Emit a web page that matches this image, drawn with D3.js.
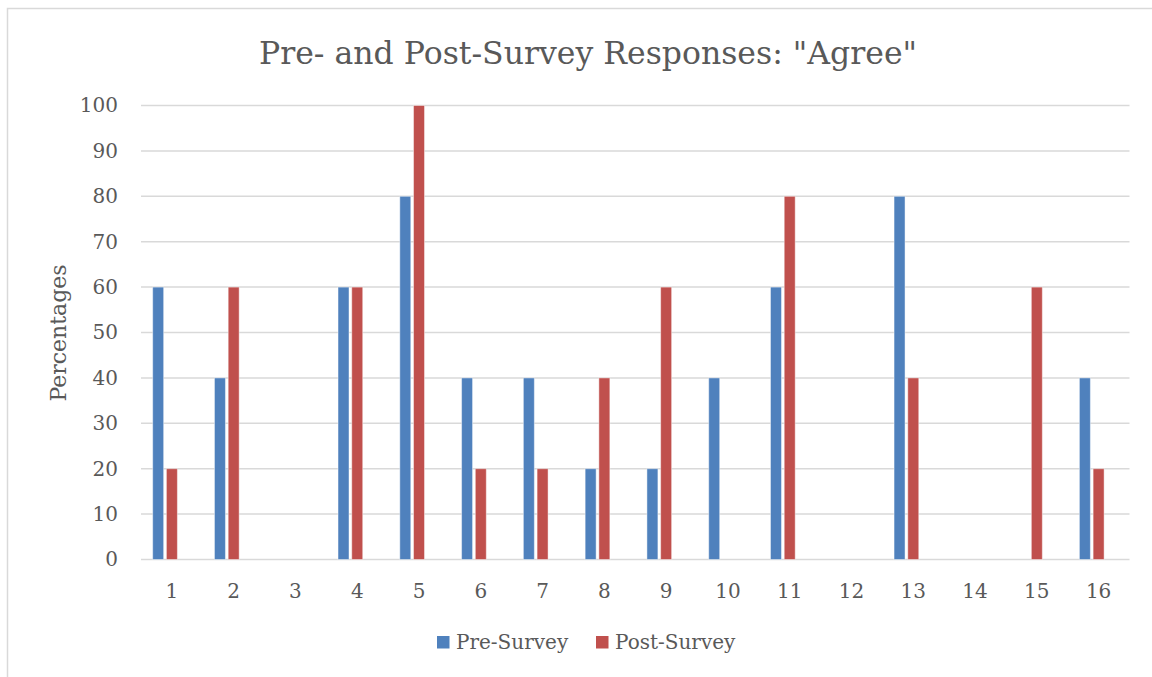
<!DOCTYPE html>
<html>
<head>
<meta charset="utf-8">
<script src="https://cdn.jsdelivr.net/npm/d3@7"></script>
<style>
  html, body { margin: 0; padding: 0; background: #fff; }
  svg { display: block; }
  text { font-family: "DejaVu Serif", "Liberation Serif", serif; fill: #595959; }
</style>
</head>
<body>
<svg id="chart" width="1152" height="677"></svg>
<script>
// Survey question numbers and the share of respondents answering "Agree"
const categories = ["1","2","3","4","5","6","7","8","9","10","11","12","13","14","15","16"];
const preSurvey  = [60, 40, 0, 60, 80, 40, 40, 20, 20, 40, 60, 0, 80, 0, 0, 40];
const postSurvey = [20, 60, 0, 60, 100, 20, 20, 40, 60, 0, 80, 0, 40, 0, 60, 20];
const yTicks = [0, 10, 20, 30, 40, 50, 60, 70, 80, 90, 100];
const seriesNames = ["Pre-Survey", "Post-Survey"];
const seriesColors = ["#4F81BD", "#C0504D"];

const svg = d3.select("#chart");
const W = 1152, H = 677;

// Chart frame (runs off the right and bottom of the page)
svg.append("rect")
  .attr("x", 7.5).attr("y", 8.5)
  .attr("width", W + 20).attr("height", H + 20)
  .attr("fill", "none").attr("stroke", "#d9d9d9").attr("stroke-width", 1.5);

const plot = { left: 141, right: 1129.5, top: 105.5, bottom: 559.5 };

const y = d3.scaleLinear().domain([0, 100]).range([plot.bottom, plot.top]);

// Category bands; each band holds three slots, the first two used by the series
const x0 = d3.scaleBand().domain(categories)
  .range([plot.left, plot.right])
  .paddingInner(0.378).paddingOuter(0.189);
const slots = ["pre", "post", "spare"];
const x1 = d3.scaleBand().domain(slots)
  .range([0, x0.bandwidth()])
  .paddingInner(0.2);

// Gridlines
svg.append("g")
  .selectAll("line")
  .data(yTicks)
  .join("line")
  .attr("x1", plot.left).attr("x2", plot.right)
  .attr("y1", d => y(d)).attr("y2", d => y(d))
  .attr("stroke", "#d9d9d9").attr("stroke-width", 1.5);

// Y axis labels
const yAxis = d3.axisLeft(y).tickValues(yTicks).tickSize(0).tickPadding(0);
svg.append("g")
  .attr("transform", `translate(${plot.left - 23},0)`)
  .call(yAxis)
  .call(g => g.select(".domain").remove())
  .call(g => g.selectAll("text")
    .style("font-family", '"DejaVu Serif", serif')
    .style("font-size", "20px")
    .attr("fill", "#595959"));

// X axis labels, centred on each full category band
const xCenter = d3.scaleBand().domain(categories).range([plot.left, plot.right]);
svg.append("g")
  .attr("transform", `translate(0,${plot.bottom + 24})`)
  .call(d3.axisBottom(xCenter).tickSize(0).tickPadding(0))
  .call(g => g.select(".domain").remove())
  .call(g => g.selectAll("text")
    .style("font-family", '"DejaVu Serif", serif')
    .style("font-size", "20px")
    .attr("fill", "#595959"));

// Bars
const rows = categories.map((c, i) => ({ cat: c, values: [
  { key: "pre", value: preSurvey[i], color: seriesColors[0] },
  { key: "post", value: postSurvey[i], color: seriesColors[1] }
]}));

svg.append("g")
  .selectAll("g")
  .data(rows)
  .join("g")
  .attr("transform", d => `translate(${x0(d.cat)},0)`)
  .selectAll("rect")
  .data(d => d.values.filter(v => v.value > 0))
  .join("rect")
  .attr("x", d => x1(d.key))
  .attr("width", x1.bandwidth())
  .attr("y", d => y(d.value))
  .attr("height", d => y(0) - y(d.value))
  .attr("fill", d => d.color)
  .attr("stroke", "rgba(255,255,255,0.45)")
  .attr("stroke-width", 1);

// Title
svg.append("text")
  .attr("x", 588).attr("y", 64)
  .attr("text-anchor", "middle")
  .style("font-size", "31.5px")
  .text('Pre- and Post-Survey Responses: "Agree"');

// Y axis title
svg.append("text")
  .attr("transform", `translate(66,${(plot.top + plot.bottom) / 2 + 0.5}) rotate(-90)`)
  .attr("text-anchor", "middle")
  .style("font-size", "22px")
  .text("Percentages");

// Legend
const legend = svg.append("g").attr("transform", "translate(437,636)");
const legendX = [0, 159];
seriesNames.forEach((name, i) => {
  const g = legend.append("g").attr("transform", `translate(${legendX[i]},0)`);
  g.append("rect").attr("width", 12.5).attr("height", 12.5).attr("fill", seriesColors[i]);
  g.append("text").attr("x", 19).attr("y", 13)
    .style("font-size", "20px").text(name);
});
</script>
</body>
</html>
